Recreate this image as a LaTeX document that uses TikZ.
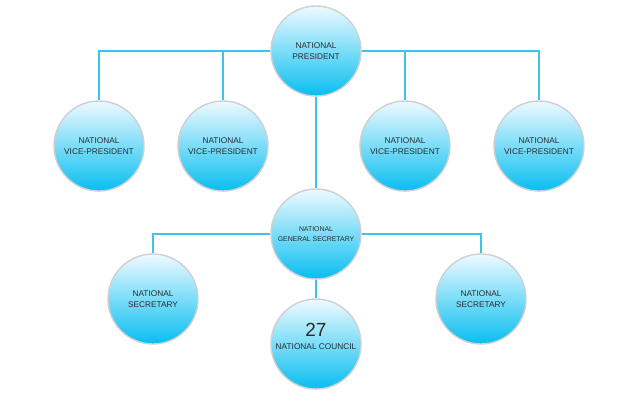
\documentclass[tikz,border=0pt]{standalone}
\usepackage{fontspec}
\setmainfont{Liberation Sans}
\usepackage{tikz}
\definecolor{linkblue}{RGB}{62,196,236}
\definecolor{ringgray}{RGB}{208,208,210}
\definecolor{bubtop}{RGB}{238,250,255}
\definecolor{bubbot}{RGB}{8,190,240}
\definecolor{txtgray}{RGB}{40,44,48}
\tikzset{
  bubble/.style={circle,minimum size=90pt,inner sep=0pt,draw=ringgray,line width=1.4pt,
    top color=bubtop,bottom color=bubbot,align=center,text=txtgray,
    font=\fontsize{8.3}{10.5}\selectfont},
  small/.style={font=\fontsize{6.9}{9.5}\selectfont},
  link/.style={draw=linkblue,line width=1.2pt},
  lbl/.style={align=center,text=txtgray}
}
\begin{document}
\begin{tikzpicture}[x=1pt,y=-1pt]
  \useasboundingbox[fill=white] (0,0) rectangle (640,400);
  % top level
  \node[bubble] (pres) at (316,51) {NATIONAL\\PRESIDENT};
  \node[bubble] (vp1) at (99,146) {NATIONAL\\VICE-PRESIDENT};
  \node[bubble] (vp2) at (223,146) {NATIONAL\\VICE-PRESIDENT};
  \node[bubble] (vp3) at (405,146) {NATIONAL\\VICE-PRESIDENT};
  \node[bubble] (vp4) at (539,146) {NATIONAL\\VICE-PRESIDENT};
  % second level
  \node[bubble,small] (gsec) at (316,234) {NATIONAL\\GENERAL SECRETARY};
  \node[bubble] (sec1) at (153,299) {NATIONAL\\SECRETARY};
  \node[bubble] (sec2) at (481,299) {NATIONAL\\SECRETARY};
  \node[bubble] (council) at (316,344) {};
  \node[lbl] (counciltxt) at ([yshift=8pt]council.center)
    {{\fontsize{19}{19}\selectfont 27}\\[1pt]{\fontsize{8.3}{10}\selectfont NATIONAL COUNCIL}};
  % connectors
  \draw[link] (pres.west) -| (vp1.north); \draw[link] (pres.west) -| (vp2.north);
  \draw[link] (pres.east) -| (vp3.north); \draw[link] (pres.east) -| (vp4.north);
  \draw[link] (pres.south) -- (gsec.north);
  \draw[link] (gsec.west) -| (sec1.north); \draw[link] (gsec.east) -| (sec2.north);
  \draw[link] (gsec.south) -- (council.north);
\end{tikzpicture}
\end{document}
